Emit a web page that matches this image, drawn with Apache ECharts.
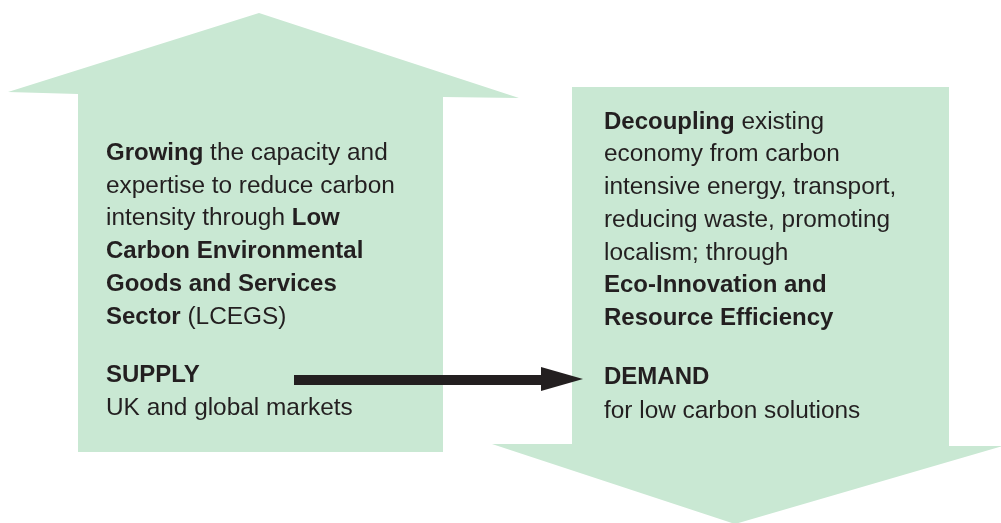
<!DOCTYPE html>
<html><head><meta charset="utf-8">
<script src="https://cdn.jsdelivr.net/npm/echarts@6/dist/echarts.min.js"></script>
<style>html,body{margin:0;padding:0;background:#fff}#c{width:1001px;height:523px}</style>
</head><body><div id="c"></div>
<script>
// Text content (segments: [text, bold?])
const supplyLines = [
  [["Growing", 1], [" the capacity and", 0]],
  [["expertise to reduce carbon", 0]],
  [["intensity through ", 0], ["Low", 1]],
  [["Carbon Environmental", 1]],
  [["Goods and Services", 1]],
  [["Sector", 1], [" (LCEGS)", 0]]
];
const supplyTitle = ["SUPPLY", "UK and global markets"];
const demandLines = [
  [["Decoupling", 1], [" existing", 0]],
  [["economy from carbon", 0]],
  [["intensive energy, transport,", 0]],
  [["reducing waste, promoting", 0]],
  [["localism; through", 0]],
  [["Eco-Innovation and", 1]],
  [["Resource Efficiency", 1]]
];
const demandTitle = ["DEMAND", "for low carbon solutions"];

const GREEN = '#c9e8d3';
const INK = '#231f20';
const FONT = '"Liberation Sans", Arial, Helvetica, sans-serif';
const FS_B = 24;
const FS_R = 24.4;

function rich(line) {
  return line.map(s => '{' + (s[1] ? 'b' : 'r') + '|' + s[0] + '}').join('');
}
function textBlock(lines, x, y0, lh) {
  return lines.map((ln, i) => ({
    type: 'text', x: x, y: y0 + i * lh,
    style: {
      text: rich(ln), verticalAlign: 'middle', align: 'left',
      rich: {
        b: {fontFamily: FONT, fontSize: FS_B, fontWeight: 'bold', fill: INK},
        r: {fontFamily: FONT, fontSize: FS_R, fontWeight: 'normal', fill: INK}
      }
    }, z: 10
  }));
}

const chart = echarts.init(document.getElementById('c'), null, {renderer: 'canvas'});
const graphics = [
  // up arrow (supply)
  {type: 'polygon', shape: {points: [[78,452],[78,94],[8,92],[259,13],[519,98],[443,97],[443,452]]}, style: {fill: GREEN}},
  // down arrow (demand)
  {type: 'polygon', shape: {points: [[572,87],[949,87],[949,446],[1003,446],[735,524],[492,444],[572,444]]}, style: {fill: GREEN}},
  // connecting arrow
  {type: 'rect', shape: {x: 294, y: 375, width: 252, height: 10}, style: {fill: INK}, z: 5},
  {type: 'polygon', shape: {points: [[541,367],[583,379],[541,391]]}, style: {fill: INK}, z: 5}
]
.concat(textBlock(supplyLines, 106, 153, 32.8))
.concat(textBlock([[[supplyTitle[0], 1]]], 106, 375, 33))
.concat(textBlock([[[supplyTitle[1], 0]]], 106, 408, 33))
.concat(textBlock(demandLines, 604, 122, 32.7))
.concat(textBlock([[[demandTitle[0], 1]]], 604, 377, 33))
.concat(textBlock([[[demandTitle[1], 0]]], 604, 411, 33));

chart.setOption({backgroundColor: '#fff', animation: false, graphic: graphics});
</script></body></html>
